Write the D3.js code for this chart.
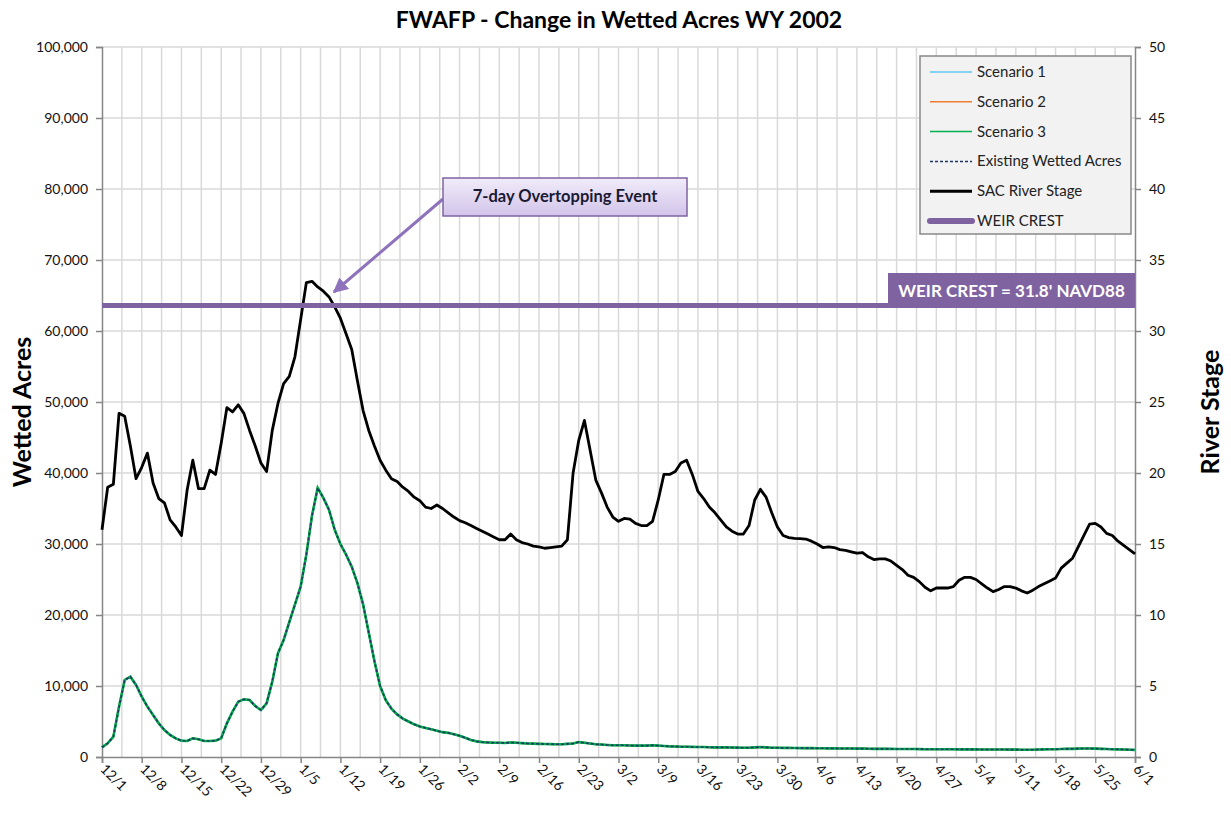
<!DOCTYPE html>
<html>
<head>
<meta charset="utf-8">
<script src="https://cdn.jsdelivr.net/npm/d3@7"></script>
<style>
  body { margin: 0; background: #fff; }
  svg { font-family: Lato, "Open Sans", sans-serif; }
</style>
</head>
<body>
<svg id="chart" width="1231" height="817"></svg>
<script>
// x tick labels, one per week from 12/1/2001 to 6/1/2002
const tickLabels = ["12/1","12/8","12/15","12/22","12/29","1/5","1/12","1/19","1/26","2/2","2/9","2/16","2/23",
  "3/2","3/9","3/16","3/23","3/30","4/6","4/13","4/20","4/27","5/4","5/11","5/18","5/25","6/1"];

// daily SAC river stage (ft), day 0 = 12/1
const riverStage = [
  16.0,19.0,19.2,24.2,24.0,21.9,19.6,20.4,21.4,19.3,
  18.2,17.9,16.7,16.2,15.6,18.8,20.9,18.9,18.9,20.2,
  19.9,22.1,24.6,24.3,24.8,24.2,23.0,21.9,20.7,20.1,
  23.0,24.9,26.3,26.8,28.2,30.8,33.4,33.5,33.1,32.8,
  32.4,31.7,30.9,29.8,28.7,26.5,24.4,23.0,21.9,20.9,
  20.2,19.6,19.4,19.0,18.7,18.3,18.05,17.6,17.5,17.75,
  17.5,17.2,16.9,16.65,16.5,16.3,16.1,15.9,15.7,15.5,
  15.3,15.3,15.7,15.3,15.1,15.0,14.85,14.8,14.7,14.75,
  14.8,14.85,15.3,20.0,22.3,23.7,21.6,19.5,18.6,17.6,
  16.9,16.6,16.8,16.75,16.45,16.3,16.3,16.6,18.1,19.9,
  19.9,20.1,20.7,20.9,19.9,18.7,18.2,17.6,17.2,16.7,
  16.2,15.9,15.7,15.7,16.3,18.1,18.85,18.3,17.2,16.2,
  15.6,15.45,15.4,15.38,15.35,15.2,15.0,14.75,14.8,14.75,
  14.6,14.55,14.45,14.35,14.4,14.1,13.9,13.95,13.95,13.8,
  13.5,13.2,12.8,12.65,12.35,11.95,11.7,11.9,11.9,11.9,
  12.0,12.45,12.65,12.65,12.5,12.2,11.9,11.65,11.8,12.0,
  12.0,11.9,11.7,11.55,11.75,12.0,12.2,12.4,12.6,13.3,
  13.65,14.0,14.8,15.6,16.4,16.45,16.2,15.75,15.6,15.2,
  14.9,14.6,14.3
];

// daily existing wetted acres, day 0 = 12/1
const existingAcres = [
  1360,1930,2860,7090,10850,11310,10140,8500,7090,5920,
  4740,3800,3100,2630,2300,2250,2630,2490,2250,2250,
  2300,2630,4740,6390,7790,8120,8030,7180,6620,7560,
  10610,14600,16480,19000,21500,24000,28500,34000,37900,36500,
  34800,32000,30000,28500,26800,24500,21500,17500,13500,10000,
  8000,6800,6000,5400,5000,4600,4300,4100,3900,3700,
  3500,3400,3200,3000,2700,2400,2200,2100,2050,2000,
  2000,1980,2050,2000,1950,1900,1880,1850,1830,1820,
  1800,1800,1850,1900,2100,2000,1900,1800,1750,1700,
  1650,1650,1650,1620,1600,1600,1600,1650,1600,1550,
  1500,1480,1450,1450,1420,1400,1400,1380,1350,1350,
  1350,1330,1320,1300,1300,1350,1400,1350,1300,1300,
  1280,1280,1260,1250,1250,1250,1240,1230,1220,1220,
  1200,1200,1200,1180,1180,1170,1150,1150,1150,1140,
  1130,1130,1120,1120,1110,1100,1100,1100,1100,1100,
  1090,1080,1080,1070,1070,1060,1060,1050,1050,1050,
  1040,1040,1030,1030,1030,1050,1080,1100,1100,1120,
  1150,1150,1180,1200,1200,1180,1150,1120,1100,1080,
  1050,1030,1000
];

// scenarios sit on top of the existing curve in the picture
const scenario1 = existingAcres;
const scenario2 = existingAcres;
const scenario3 = existingAcres;

const weirCrest = 31.8;

const leftTicks = [0,10000,20000,30000,40000,50000,60000,70000,80000,90000,100000];
const rightTicks = [0,5,10,15,20,25,30,35,40,45,50];

const W = 1231, H = 817;
const margin = { top: 47, right: 96, bottom: 60, left: 102 };
const svg = d3.select("#chart");

const x = d3.scaleLinear().domain([0, 182]).range([margin.left, W - margin.right]);
const yL = d3.scaleLinear().domain([0, 100000]).range([H - margin.bottom, margin.top]);
const yR = d3.scaleLinear().domain([0, 50]).range([H - margin.bottom, margin.top]);

const gridColor = "#d9d9d9";
const axisColor = "#868686";

// vertical gridlines every half week
svg.append("g").selectAll("line")
  .data(d3.range(3.5, 182, 3.5))
  .join("line")
  .attr("x1", d => x(d)).attr("x2", d => x(d))
  .attr("y1", yL(0)).attr("y2", yL(100000))
  .attr("stroke", gridColor).attr("stroke-width", 1.5);

// horizontal gridlines
svg.append("g").selectAll("line")
  .data(leftTicks.slice(1))
  .join("line")
  .attr("x1", x(0)).attr("x2", x(182))
  .attr("y1", d => yL(d)).attr("y2", d => yL(d))
  .attr("stroke", gridColor).attr("stroke-width", 1.5);

// axes
const axisLeft = svg.append("g")
  .attr("transform", `translate(${margin.left},0)`)
  .call(d3.axisLeft(yL).tickValues(leftTicks).tickFormat(d3.format(",")).tickSize(6).tickPadding(8));
const axisRight = svg.append("g")
  .attr("transform", `translate(${W - margin.right},0)`)
  .call(d3.axisRight(yR).tickValues(rightTicks).tickSize(6).tickPadding(8));
const axisBottom = svg.append("g")
  .attr("transform", `translate(0,${H - margin.bottom})`)
  .call(d3.axisBottom(x).tickValues(d3.range(0, 183, 7)).tickFormat((d, i) => tickLabels[i]).tickSize(6));

[axisLeft, axisRight, axisBottom].forEach(g => {
  g.select(".domain").attr("stroke", axisColor).attr("stroke-width", 1.5);
  g.selectAll(".tick line").attr("stroke", axisColor).attr("stroke-width", 1.5);
  g.selectAll("text").attr("font-size", 14).attr("fill", "#111")
    .attr("font-family", "Lato, sans-serif");
});
axisBottom.selectAll(".tick text")
  .attr("text-anchor", "start")
  .attr("dy", null).attr("y", 0)
  .attr("transform", "translate(-3,13) rotate(45)");

// river stage line
const stageLine = d3.line().x((d, i) => x(i)).y(d => yR(d));
svg.append("path")
  .datum(riverStage)
  .attr("d", stageLine)
  .attr("fill", "none").attr("stroke", "#000").attr("stroke-width", 2.8)
  .attr("stroke-linejoin", "round");

// wetted acres lines
const acresLine = d3.line().x((d, i) => x(i)).y(d => yL(d));
const acreSeries = [
  { data: scenario1, color: "#5bc8f0", width: 2, dash: null },
  { data: scenario2, color: "#ed7d31", width: 2, dash: null },
  { data: scenario3, color: "#00b050", width: 2.6, dash: null },
  { data: existingAcres, color: "#1f3864", width: 1.6, dash: "3,2" }
];
acreSeries.forEach(s => {
  svg.append("path")
    .datum(s.data)
    .attr("d", acresLine)
    .attr("fill", "none").attr("stroke", s.color).attr("stroke-width", s.width)
    .attr("stroke-dasharray", s.dash);
});

// weir crest line and label
const purple = "#7f63a1";
svg.append("line")
  .attr("x1", x(0)).attr("x2", x(182))
  .attr("y1", yR(weirCrest)).attr("y2", yR(weirCrest))
  .attr("stroke", purple).attr("stroke-width", 5);
svg.append("rect")
  .attr("x", 888).attr("y", 273).attr("width", x(182) - 888).attr("height", yR(weirCrest) + 2.5 - 273)
  .attr("fill", purple);
svg.append("text")
  .attr("x", (888 + x(182)) / 2).attr("y", 297)
  .attr("text-anchor", "middle").attr("fill", "#fff")
  .attr("font-size", 17).attr("font-weight", "bold")
  .text("WEIR CREST = 31.8' NAVD88");

// overtopping annotation
const defs = svg.append("defs");
const grad = defs.append("linearGradient").attr("id", "boxGrad")
  .attr("x1", 0).attr("y1", 0).attr("x2", 0).attr("y2", 1);
grad.append("stop").attr("offset", "0%").attr("stop-color", "#f1ecf9");
grad.append("stop").attr("offset", "100%").attr("stop-color", "#d2c4ea");
defs.append("marker").attr("id", "arrowHead")
  .attr("viewBox", "0 0 10 10").attr("refX", 9).attr("refY", 5)
  .attr("markerWidth", 5).attr("markerHeight", 5).attr("orient", "auto")
  .append("path").attr("d", "M0,0 L10,5 L0,10 Z").attr("fill", "#8e72bc");

svg.append("line")
  .attr("x1", 443).attr("y1", 199).attr("x2", 334).attr("y2", 292)
  .attr("stroke", "#8e72bc").attr("stroke-width", 3)
  .attr("marker-end", "url(#arrowHead)");
svg.append("rect")
  .attr("x", 443).attr("y", 178).attr("width", 244).attr("height", 38)
  .attr("fill", "url(#boxGrad)").attr("stroke", purple).attr("stroke-width", 1.5);
svg.append("text")
  .attr("x", 565).attr("y", 202)
  .attr("text-anchor", "middle").attr("fill", "#1a1a33")
  .attr("font-size", 16.5).attr("font-weight", "bold")
  .text("7-day Overtopping Event");

// legend
const legendItems = [
  { label: "Scenario 1", color: "#5bc8f0", width: 1.5, dash: null },
  { label: "Scenario 2", color: "#ed7d31", width: 1.5, dash: null },
  { label: "Scenario 3", color: "#00b050", width: 1.5, dash: null },
  { label: "Existing Wetted Acres", color: "#1f3864", width: 1.5, dash: "3,2" },
  { label: "SAC River Stage", color: "#000", width: 3, dash: null },
  { label: "WEIR CREST", color: purple, width: 6, dash: null }
];
const legend = svg.append("g");
legend.append("rect")
  .attr("x", 920).attr("y", 56).attr("width", 211).attr("height", 178)
  .attr("fill", "#f2f2f2").attr("stroke", "#888").attr("stroke-width", 1.5);
legendItems.forEach((item, i) => {
  const ly = 72 + i * 29.8;
  legend.append("line")
    .attr("x1", 930).attr("x2", 972).attr("y1", ly).attr("y2", ly)
    .attr("stroke", item.color).attr("stroke-width", item.width)
    .attr("stroke-dasharray", item.dash)
    .attr("stroke-linecap", item.width > 4 ? "round" : "butt");
  legend.append("text")
    .attr("x", 977).attr("y", ly + 5)
    .attr("font-size", 15).attr("fill", "#222")
    .text(item.label);
});

// title and axis titles
svg.append("text")
  .attr("x", 619).attr("y", 28)
  .attr("text-anchor", "middle").attr("font-size", 23).attr("font-weight", "bold")
  .text("FWAFP - Change in Wetted Acres WY 2002");
svg.append("text")
  .attr("transform", "translate(31,412) rotate(-90)")
  .attr("text-anchor", "middle").attr("font-size", 25).attr("font-weight", "bold")
  .text("Wetted Acres");
svg.append("text")
  .attr("transform", "translate(1219,412) rotate(-90)")
  .attr("text-anchor", "middle").attr("font-size", 25).attr("font-weight", "bold")
  .text("River Stage");
</script>
</body>
</html>
